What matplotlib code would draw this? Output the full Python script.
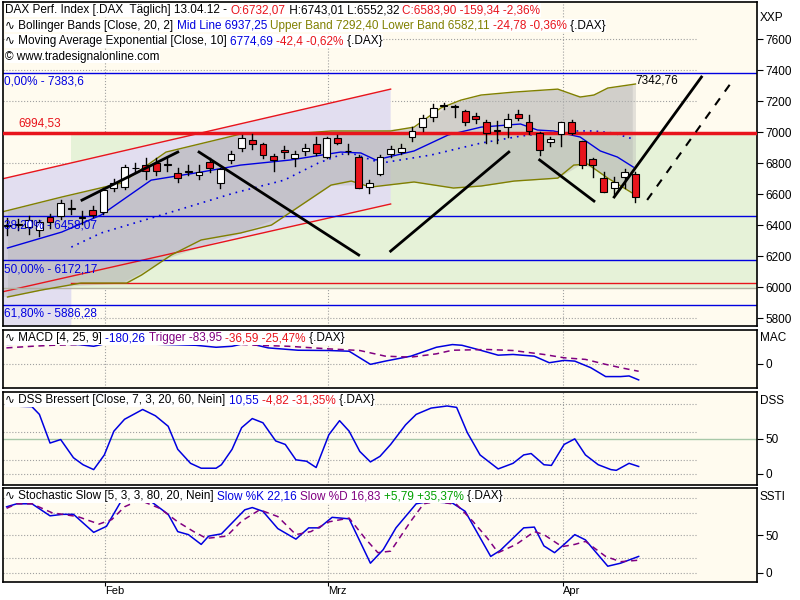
import numpy as np
import matplotlib
matplotlib.use("Agg")
import matplotlib.pyplot as plt
from matplotlib.offsetbox import TextArea, HPacker, AnchoredOffsetbox

plt.rcParams['font.family'] = ['Liberation Sans', 'DejaVu Sans']

# ---- daily candles (DAX, ~19.01.12 - 13.04.12) ----
opens = [6394, 6400, 6390, 6370, 6450, 6460, 6505, 6445, 6500, 6485,
         6640, 6645, 6765, 6790, 6800, 6790, 6735, 6745, 6725, 6810,
         6670, 6820, 6900, 6950, 6920, 6845, 6885, 6830, 6880, 6920,
         6840, 6960, 6875, 6840, 6645, 6730, 6860, 6870, 6970, 7030,
         7095, 7168, 7160, 7135, 7105, 7065, 7008, 7030, 7115, 7065,
         6995, 6935, 6985, 7065, 6940, 6825, 6705, 6640, 6710, 6732]
highs = [6445, 6440, 6460, 6430, 6470, 6560, 6560, 6490, 6520, 6640,
         6700, 6790, 6800, 6830, 6830, 6840, 6770, 6790, 6790, 6830,
         6770, 6880, 6980, 6990, 6930, 6860, 6910, 6880, 6920, 6970,
         6970, 6980, 6920, 6850, 6690, 6850, 6910, 6920, 7030, 7110,
         7180, 7190, 7175, 7140, 7125, 7075, 7070, 7115, 7145, 7110,
         7000, 6965, 7065, 7080, 6945, 6830, 6740, 6710, 6760, 6743]
lows = [6335, 6370, 6340, 6330, 6380, 6440, 6470, 6410, 6450, 6470,
        6620, 6630, 6740, 6700, 6720, 6750, 6680, 6720, 6700, 6740,
        6640, 6800, 6880, 6890, 6830, 6750, 6830, 6780, 6850, 6850,
        6830, 6920, 6860, 6640, 6610, 6720, 6840, 6860, 6940, 7010,
        7070, 7150, 7100, 7045, 7060, 6930, 6930, 6970, 7080, 6990,
        6850, 6910, 6910, 6985, 6770, 6710, 6615, 6600, 6640, 6552]
closes = [6400, 6407, 6430, 6420, 6420, 6540, 6510, 6450, 6465, 6625,
          6670, 6775, 6770, 6750, 6750, 6795, 6705, 6750, 6740, 6765,
          6760, 6860, 6960, 6920, 6850, 6820, 6870, 6860, 6895, 6865,
          6960, 6930, 6880, 6640, 6670, 6840, 6890, 6900, 7005, 7090,
          7155, 7172, 7165, 7065, 7085, 6995, 7012, 7085, 7090, 7005,
          6885, 6955, 7065, 6995, 6790, 6785, 6615, 6680, 6740, 6584]

# ---- Bollinger bands / averages (index position, value) ----
upper_idx = [-0.56, 5.1, 10.7, 14.9, 21.9, 26.6, 30.4, 36.0, 38.2, 40.7, 42.6, 44.5, 47.6, 51.7, 53.8, 55.1, 56.4, 59.0]
upper_val = [6484, 6581, 6671, 6871, 6987, 6987, 7007, 7007, 7032, 7155, 7206, 7239, 7258, 7277, 7226, 7239, 7284, 7310]
lower_idx = [0.0, 3.2, 6.9, 11.2, 12.6, 15.4, 18.2, 21.9, 24.8, 27.6, 30.4, 32.3, 34.1, 38.2, 41.9, 44.5, 47.6, 51.7, 53.2, 54.5, 56.4, 58.7]
lower_val = [5936, 5981, 6026, 6026, 6078, 6207, 6304, 6349, 6400, 6529, 6658, 6684, 6645, 6678, 6639, 6652, 6684, 6703, 6787, 6794, 6703, 6607]
ema_idx = [0.0, 5.1, 8.8, 13.5, 18.2, 21.9, 26.6, 31.3, 33.2, 34.6, 38.2, 41.4, 44.5, 48.2, 49.8, 51.3, 53.8, 55.7, 57.3, 58.8]
ema_val = [6252, 6355, 6465, 6690, 6742, 6787, 6820, 6871, 6865, 6820, 6878, 6981, 7032, 7052, 7013, 7007, 6968, 6878, 6839, 6774]
mid_idx = [6.0, 8.8, 15.1, 21.3, 26.0, 29.2, 32.0, 35.1, 39.8, 44.5, 48.2, 52.3, 55.1, 56.9, 58.8]
mid_val = [6258, 6349, 6478, 6607, 6690, 6800, 6871, 6800, 6852, 6929, 6974, 7007, 7007, 6994, 6955]

# ---- drawn lines ----
trend_x = [(7.0, 16.0), (18.0, 33.0), (36.0, 47.1), (50.0, 55.1), (57.0, 65.2)]
trend_y = [(6561, 6871), (6871, 6207), (6232, 6871), (6820, 6555), (6581, 7355)]
dash_x = (60.1, 68.1)
dash_y = (6562, 7329)
chan_x = (-0.56, 36.0)
chan_up = (6697, 7277)
chan_lo = (5968, 6536)
fib_vals = [7383.6, 6458.07, 6172.17, 5886.28]
fib_text = ['0,00% - 7383,6', '38,20% - 6458,07', '50,00% - 6172,17', '61,80% - 5886,28']
resist = 6994.53
support = 6026

# ---- MACD ----
macd_idx = [0, 3, 6.65, 8.1, 9.5, 17.7, 19.6, 21.1, 22.5, 24.5, 27.3, 30.2, 32.1, 34.1, 35.5, 37.9, 40.3, 41.8, 42.7, 44.2, 46.1, 47.5, 49.5, 50.9, 52.3, 53.3, 54.8, 56.2, 57.6, 58.4, 59.3]
macd_val = [215, 225, 213, 194, 231, 205, 183, 194, 231, 176, 150, 147, 139, -7, 29, 84, 183, 213, 205, 158, 95, 103, 84, 11, 37, 29, -44, -143, -143, -136, -180]
trig_idx = [-0.1, 2.3, 4.2, 9.1, 16.3, 21.1, 23.5, 26.4, 30.2, 33.1, 35.5, 37.9, 40.3, 41.8, 45.1, 47.5, 50.4, 52.3, 54.3, 56.2, 57.6, 59.3]
trig_val = [176, 194, 205, 220, 220, 220, 205, 194, 165, 147, 84, 73, 110, 150, 158, 147, 103, 66, 48, -7, -44, -84]

# ---- DSS Bressert ----
dss_idx = [0.4, 2.3, 3.0, 4.0, 5.0, 6.2, 7.1, 8.1, 9.1, 10.0, 11.0, 12.7, 13.9, 15.1, 16.0, 17.2, 18.2, 19.6, 20.1, 21.1, 22.0, 23.0, 24.0, 25.2, 26.1, 27.1, 28.1, 29.0, 30.2, 31.2, 32.1, 33.1, 34.1, 35.0, 36.0, 37.4, 38.4, 39.8, 41.3, 42.2, 43.2, 44.4, 46.1, 47.5, 48.5, 49.2, 50.4, 51.1, 52.3, 53.3, 54.3, 55.5, 56.7, 57.2, 58.4, 59.3]
dss_val = [97, 96, 85, 44, 49, 23, 13, 6, 27, 61, 78, 92, 83, 68, 35, 15, 8, 8, 13, 35, 66, 79, 73, 47, 42, 20, 18, 9, 56, 76, 61, 32, 17, 25, 42, 70, 85, 94, 97, 95, 59, 27, 7, 15, 27, 29, 13, 12, 42, 50, 27, 13, 6, 5, 15, 10.5]

# ---- Stochastic Slow ----
k_idx = [-0.08, 0.88, 2.3, 4.0, 5.2, 6.2, 8.1, 9.3, 10.7, 12.4, 13.4, 15.1, 16.0, 17.0, 18.2, 18.9, 20.1, 22.3, 23.0, 24.0, 25.4, 27.1, 28.3, 29.3, 30.5, 32.1, 34.1, 35.3, 36.5, 38.4, 39.6, 41.8, 43.0, 45.4, 46.3, 48.5, 49.5, 50.4, 51.4, 52.3, 53.3, 54.3, 56.4, 57.6, 59.3]
k_val = [88, 92, 92, 76, 78, 78, 54, 62, 96, 97, 96, 78, 55, 51, 38, 49, 52, 84, 87, 82, 59, 45, 60, 60, 74, 72, 13, 31, 60, 92, 95, 93, 82, 22, 30, 60, 61, 36, 27, 38, 51, 44, 9, 13, 22]
d_idx = [-0.08, 0.88, 2.3, 4.2, 6.6, 8.6, 9.8, 11.0, 12.4, 14.3, 16.0, 17.5, 18.7, 20.6, 22.0, 23.7, 25.4, 27.1, 28.5, 30.2, 32.1, 33.6, 34.8, 36.0, 37.9, 39.1, 40.3, 42.2, 43.7, 45.1, 46.1, 47.8, 49.5, 50.4, 52.1, 53.3, 54.3, 56.2, 57.6, 59.3]
d_val = [86, 92, 92, 80, 75, 65, 71, 88, 97, 86, 68, 55, 46, 49, 69, 84, 75, 51, 55, 68, 73, 46, 27, 29, 69, 92, 95, 91, 69, 46, 27, 38, 55, 51, 35, 38, 42, 22, 15, 17]

month_pos = [9.2, 30.1, 52.2]
month_lbl = ['Feb', 'Mrz', 'Apr']

BG = '#FFFBEF'
RED = '#E8141C'
BLUE = '#0000E0'
OLIVE = '#808000'
PURPLE = '#800080'
GREEN = '#00A000'
XL = (-0.4, 70.4)


def header(ax, parts, y=1.0):
    boxes = [TextArea(t, textprops=dict(color=c, fontsize=8.5)) for t, c in parts]
    pk = HPacker(children=boxes, align='baseline', pad=0, sep=0)
    ab = AnchoredOffsetbox(loc='upper left', child=pk, pad=0.05, borderpad=0.1,
                           frameon=True, bbox_to_anchor=(0, y), bbox_transform=ax.transAxes)
    ab.patch.set_facecolor('white')
    ab.patch.set_edgecolor('none')
    ax.add_artist(ab)


def style(ax, ticks, lbl):
    ax.set_facecolor(BG)
    ax.set_xlim(*XL)
    ax.yaxis.tick_right()
    ax.set_yticks(ticks)
    ax.tick_params(axis='y', labelsize=8.5, length=4, direction='out', pad=2)
    ax.tick_params(axis='x', length=0, labelbottom=False)
    for p in month_pos:
        ax.axvline(p, color='#A0A0A0', ls=':', lw=0.8, zorder=0)
    for s in ax.spines.values():
        s.set_color('black')
        s.set_linewidth(1.2)
    ax.text(1.004, 0.97, lbl, transform=ax.transAxes, fontsize=8.5, va='top', ha='left', clip_on=False)


fig = plt.figure(figsize=(8, 6), dpi=100)
L, W = 0.004, 0.942
ax = fig.add_axes([L, 1 - 326 / 600, W, 324 / 600])
ax_m = fig.add_axes([L, 1 - 388 / 600, W, 58 / 600])
ax_d = fig.add_axes([L, 1 - 485 / 600, W, 93 / 600])
ax_s = fig.add_axes([L, 1 - 582 / 600, W, 94 / 600])

# ---- main panel ----
style(ax, np.arange(5800, 7601, 200), 'XXP')
ax.set_ylim(5749, 7839)
ax.set_yticklabels([str(v) for v in range(5800, 7601, 200)])
for v in range(5800, 7601, 200):
    ax.axhline(v, color='#A0A0A0', ls=':', lw=0.8, zorder=0, xmax=0.92)

# green zone and lavender channel
ax.fill_between([6.0, XL[1]], 5995, resist, color='#E6F2D8', zorder=0.5, lw=0)
k = (chan_lo[1] - chan_lo[0]) / (chan_x[1] - chan_x[0])
lo_at6 = chan_lo[0] + k * (6.0 - chan_x[0])
ax.fill([chan_x[0], chan_x[1], chan_x[1], 6.0, 6.0, chan_x[0]],
        [chan_up[0], chan_up[1], chan_lo[1], lo_at6, 5749, 5749],
        color='#E2DEF0', zorder=0.6, lw=0)
ax.fill_between(np.array(upper_idx), np.array(upper_val),
                np.interp(upper_idx, lower_idx, lower_val), color='#B0B0B0', alpha=0.35, zorder=0.7, lw=0)
ax.fill_between(np.array(lower_idx), np.interp(lower_idx, upper_idx, upper_val),
                np.array(lower_val), color='#B0B0B0', alpha=0.35, zorder=0.7, lw=0)

ax.plot(chan_x, chan_up, color=RED, lw=1, zorder=1)
ax.plot(chan_x, chan_lo, color=RED, lw=1, zorder=1)
ax.plot([6.0, XL[1]], [support, support], color=RED, lw=1, zorder=1)
ax.axhline(5995, color='#B0B0A0', lw=1, zorder=1)
for v, t in zip(fib_vals, fib_text):
    ax.axhline(v, color=BLUE, lw=1, zorder=1)
    ax.text(-0.35, v - 20, t, color=BLUE, fontsize=8.5, va='top', zorder=5)
ax.axhline(resist, color=RED, lw=2.5, zorder=3)
ax.text(1.0, resist + 25, '6994,53', color=RED, fontsize=8.5, va='bottom', zorder=5)

ax.plot(upper_idx, upper_val, color=OLIVE, lw=1, zorder=2)
ax.plot(lower_idx, lower_val, color=OLIVE, lw=1, zorder=2)
ax.plot(ema_idx, ema_val, color=BLUE, lw=1, zorder=2)
ax.plot(mid_idx, mid_val, color=BLUE, lw=1.2, ls=(0, (1, 3)), zorder=2)

for i in range(len(closes)):
    o, h, l, c = opens[i], highs[i], lows[i], closes[i]
    ax.plot([i, i], [l, h], color='black', lw=1, zorder=4)
    col = RED if c < o else 'white'
    bh = max(abs(c - o), 6)
    ax.add_patch(plt.Rectangle((i - 0.32, min(o, c)), 0.64, bh, facecolor=col,
                               edgecolor='black', lw=0.8, zorder=4.5))

for (x0, x1), (y0, y1) in zip(trend_x, trend_y):
    ax.plot([x0, x1], [y0, y1], color='black', lw=2, zorder=6)
ax.plot(dash_x, dash_y, color='black', lw=1.5, ls=(0, (4, 4)), zorder=6)
ax.text(59.0, 7342.76 - 10, '7342,76', fontsize=8.5, va='center', zorder=6)

header(ax, [('DAX Perf. Index [.DAX  Täglich] 13.04.12 - ', 'black'), ('O:6732,07', RED),
            (' H:6743,01 L:6552,32 ', 'black'), ('C:6583,90 -159,34 -2,36%', RED)], 1.0)
header(ax, [('∿ Bollinger Bands [Close, 20, 2] ', 'black'), ('Mid Line 6937,25 ', BLUE),
            ('Upper Band 7292,40 Lower Band 6582,11 ', OLIVE), ('-24,78 -0,36%', RED), (' {.DAX}', 'black')], 0.952)
header(ax, [('∿ Moving Average Exponential [Close, 10] ', 'black'), ('6774,69 ', BLUE),
            ('-42,4 -0,62%', RED), (' {.DAX}', 'black')], 0.904)
header(ax, [('© www.tradesignalonline.com', 'black')], 0.856)

# ---- MACD ----
style(ax_m, [0], 'MAC')
ax_m.set_ylim(-270, 375)
ax_m.axhline(0, color='#A0A0A0', ls=':', lw=0.8, xmax=0.92)
ax_m.plot(macd_idx, macd_val, color=BLUE, lw=1.1)
ax_m.plot(trig_idx, trig_val, color=PURPLE, lw=1.1, ls=(0, (4, 3)))
header(ax_m, [('∿ MACD [4, 25, 9] ', 'black'), ('-180,26 ', BLUE), ('Trigger -83,95 ', PURPLE),
              ('-36,59 -25,47%', RED), (' {.DAX}', 'black')])

# ---- DSS ----
style(ax_d, [0, 50], 'DSS')
ax_d.set_ylim(-16, 117)
for v in (0, 20, 60, 100):
    ax_d.axhline(v, color='#A0A0A0', ls=':', lw=0.8, xmax=0.92)
ax_d.axhline(50, color='#A8C8A8', lw=1)
ax_d.plot(dss_idx, dss_val, color=BLUE, lw=1.1)
header(ax_d, [('∿ DSS Bressert [Close, 7, 3, 20, 60, Nein] ', 'black'), ('10,55 ', BLUE),
              ('-4,82 -31,35%', RED), (' {.DAX}', 'black')])

# ---- Stochastic ----
style(ax_s, [0, 50], 'SSTI')
ax_s.set_ylim(-12, 113)
for v in (0, 20, 50, 80, 100):
    ax_s.axhline(v, color='#A0A0A0', ls=':', lw=0.8, xmax=0.92)
ax_s.plot(k_idx, k_val, color=BLUE, lw=1.1)
ax_s.plot(d_idx, d_val, color=PURPLE, lw=1.1, ls=(0, (4, 3)))
header(ax_s, [('∿ Stochastic Slow [5, 3, 3, 80, 20, Nein] ', 'black'), ('Slow %K 22,16 ', BLUE),
              ('Slow %D 16,83 ', PURPLE), ('+5,79 +35,37%', GREEN), (' {.DAX}', 'black')])
ax_s.set_xticks(month_pos)
ax_s.set_xticklabels(month_lbl, ha='left', fontsize=8)
ax_s.tick_params(axis='x', length=3, direction='out', labelbottom=True, pad=0)

fig.savefig('out.png', dpi=100, facecolor='white')
